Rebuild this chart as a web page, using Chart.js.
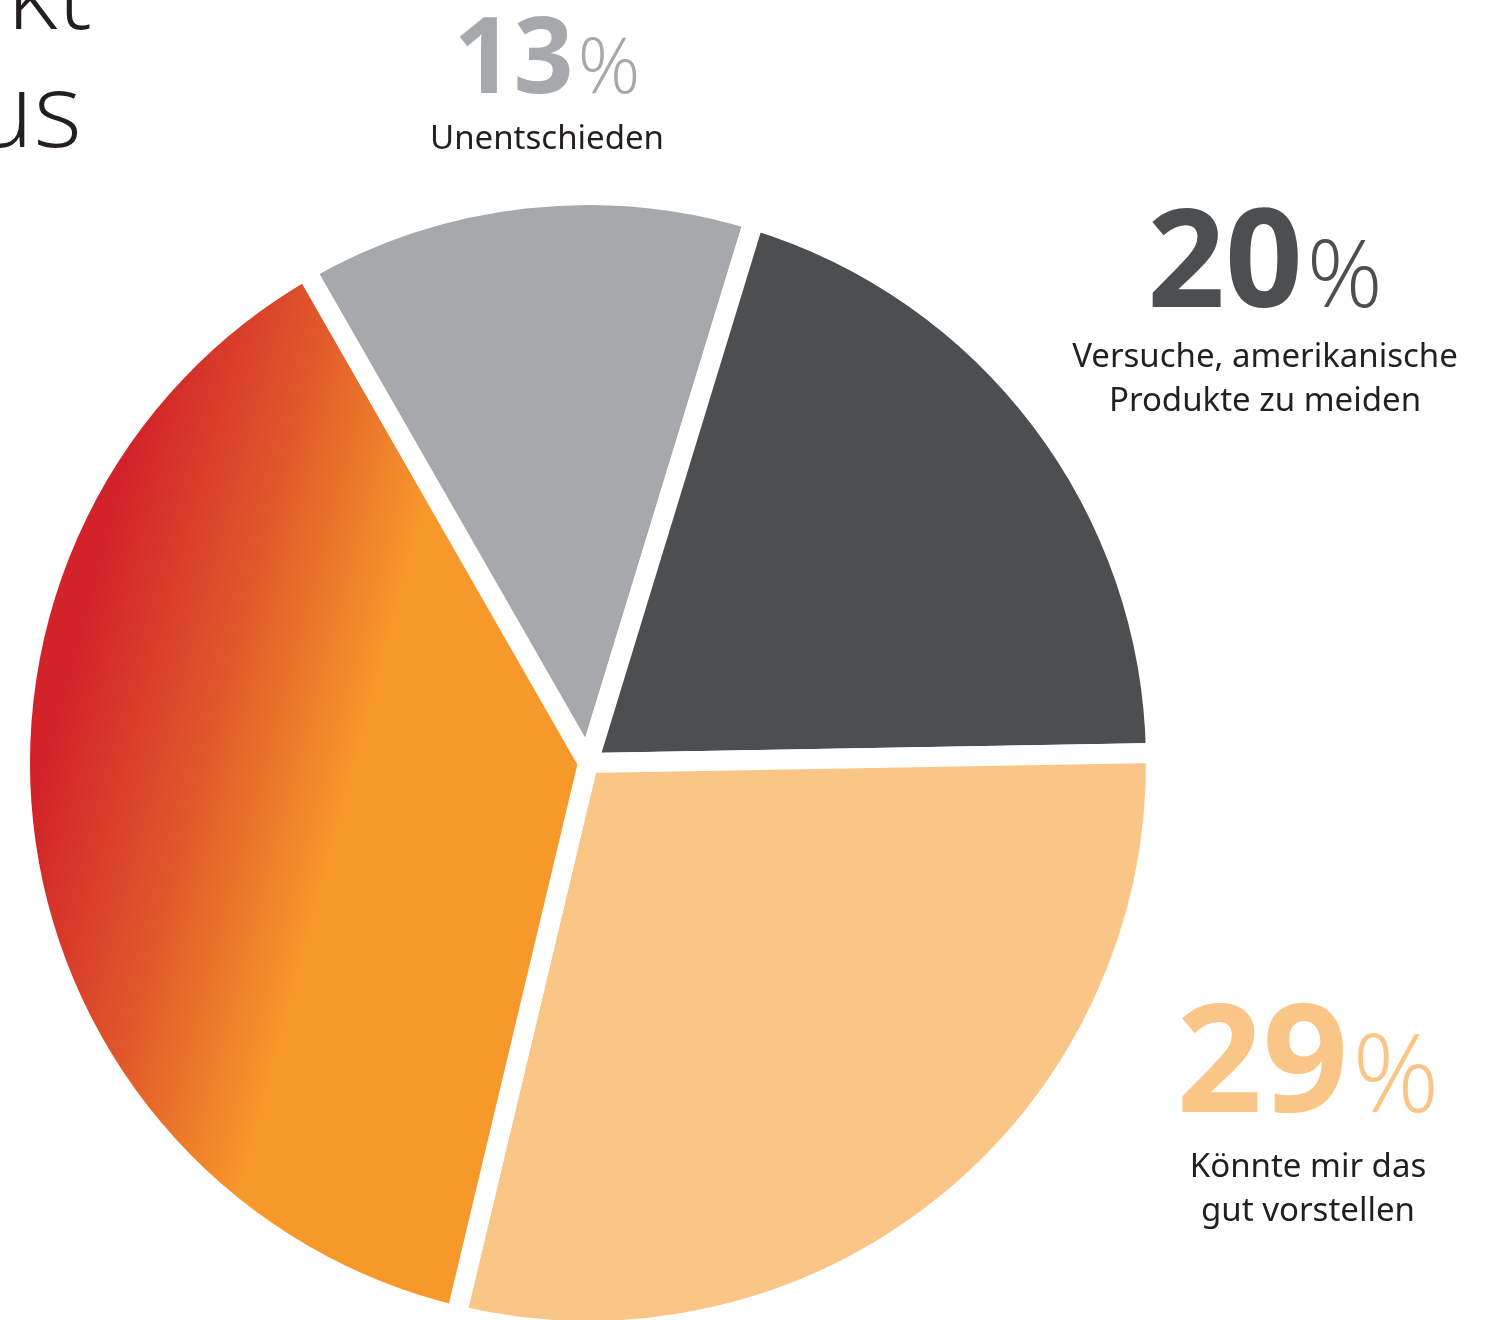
<!DOCTYPE html>
<html>
<head>
<meta charset="utf-8">
<title>Pie</title>
<script src="https://cdn.jsdelivr.net/npm/chart.js@4.4.1/dist/chart.umd.min.js"></script>
<style>
  html, body { margin: 0; padding: 0; background: #fff; overflow: hidden; }
  #wrap { position: relative; width: 1494px; height: 1320px; overflow: hidden; }
  #wrap canvas { position: absolute; left: 0; top: 0; }
</style>
</head>
<body>
<div id="wrap"><canvas id="chart" width="1494" height="1400"></canvas></div>
<script>
// data, clockwise from the grey slice
const categories = ['Unentschieden', 'Versuche, amerikanische Produkte zu meiden', 'Könnte mir das gut vorstellen', ''];
const labelLines = [['Unentschieden'], ['Versuche, amerikanische', 'Produkte zu meiden'], ['Könnte mir das', 'gut vorstellen'], []];
const shares = [13, 20, 29, 38];
const sliceColors = ['#a7a8ab', '#4d4e50', '#f9c688', null];
const gradientColors = ['#d2232a', '#e0582a', '#f7992a'];
const titleBits = ['kt', 'us'];

// label placement (layout only)
const labelPos = [
  { x: 547, numY: 93, numSize: 105, pctSize: 78, textY: 149 },
  { x: 1265, numY: 307, numSize: 136, pctSize: 94, textY: 367 },
  { x: 1308, numY: 1112, numSize: 150, pctSize: 108, textY: 1177 },
  null
];

const GAP = 20;
const FONT = '"Noto Sans", "Open Sans", sans-serif';
const LIGHT_FONT = '"Open Sans", "Noto Sans", sans-serif';
const TEXT_COLOR = '#231f20';

function pieGeom(chart) {
  const a = chart.chartArea;
  const cx = (a.left + a.right) / 2;
  const cy = (a.top + a.bottom) / 2;
  const r = (Math.min(a.right - a.left, a.bottom - a.top) - GAP) / 2 - GAP / 2;
  return { cx, cy, r };
}

function sliceFill(c) {
  const col = sliceColors[c.dataIndex];
  if (col) return col;
  const chart = c.chart;
  if (!chart.chartArea) return gradientColors[2];
  const { cx, cy, r } = pieGeom(chart);
  // roughly horizontal blend, tilted a little
  const g = chart.ctx.createLinearGradient(cx - 0.88 * r, cy - 0.34 * r, cx - 0.36 * r, cy - 0.2 * r);
  g.addColorStop(0, gradientColors[0]);
  g.addColorStop(0.5, gradientColors[1]);
  g.addColorStop(1, gradientColors[2]);
  return g;
}

const labelPlugin = {
  id: 'sliceLabels',
  afterDraw(chart) {
    const ctx = chart.ctx;
    ctx.save();
    ctx.textBaseline = 'alphabetic';

    // cropped title at top left
    ctx.fillStyle = TEXT_COLOR;
    ctx.font = '300 104px ' + LIGHT_FONT;
    ctx.textAlign = 'right';
    ctx.fillText(titleBits[0], 92, 29);
    ctx.fillText(titleBits[1], 82, 147);

    shares.forEach((v, i) => {
      const p = labelPos[i];
      if (!p) return;
      const num = String(v);
      ctx.font = '700 ' + p.numSize + 'px ' + FONT;
      const wNum = ctx.measureText(num).width;
      ctx.font = '300 ' + p.pctSize + 'px ' + LIGHT_FONT;
      const wPct = ctx.measureText('%').width;
      const gap = 4;
      const x0 = p.x - (wNum + gap + wPct) / 2;

      ctx.textAlign = 'left';
      ctx.fillStyle = sliceColors[i];
      ctx.font = '700 ' + p.numSize + 'px ' + FONT;
      ctx.fillText(num, x0, p.numY);
      ctx.font = '300 ' + p.pctSize + 'px ' + LIGHT_FONT;
      ctx.fillText('%', x0 + wNum + gap, p.numY);

      ctx.textAlign = 'center';
      ctx.fillStyle = TEXT_COLOR;
      ctx.font = '400 33px ' + FONT;
      labelLines[i].forEach((line, k) => {
        ctx.fillText(line, p.x, p.textY + k * 44);
      });
    });
    ctx.restore();
  }
};

const ctx = document.getElementById('chart').getContext('2d');
new Chart(ctx, {
  type: 'pie',
  data: {
    labels: categories,
    datasets: [{
      data: shares,
      backgroundColor: sliceFill,
      borderColor: '#ffffff',
      borderWidth: GAP,
      hoverOffset: 0
    }]
  },
  options: {
    responsive: false,
    animation: false,
    events: [],
    rotation: -29.8,
    layout: { padding: { left: 10, right: 328, top: 185, bottom: 59 } },
    plugins: {
      legend: { display: false },
      tooltip: { enabled: false }
    }
  },
  plugins: [labelPlugin]
});
</script>
</body>
</html>
